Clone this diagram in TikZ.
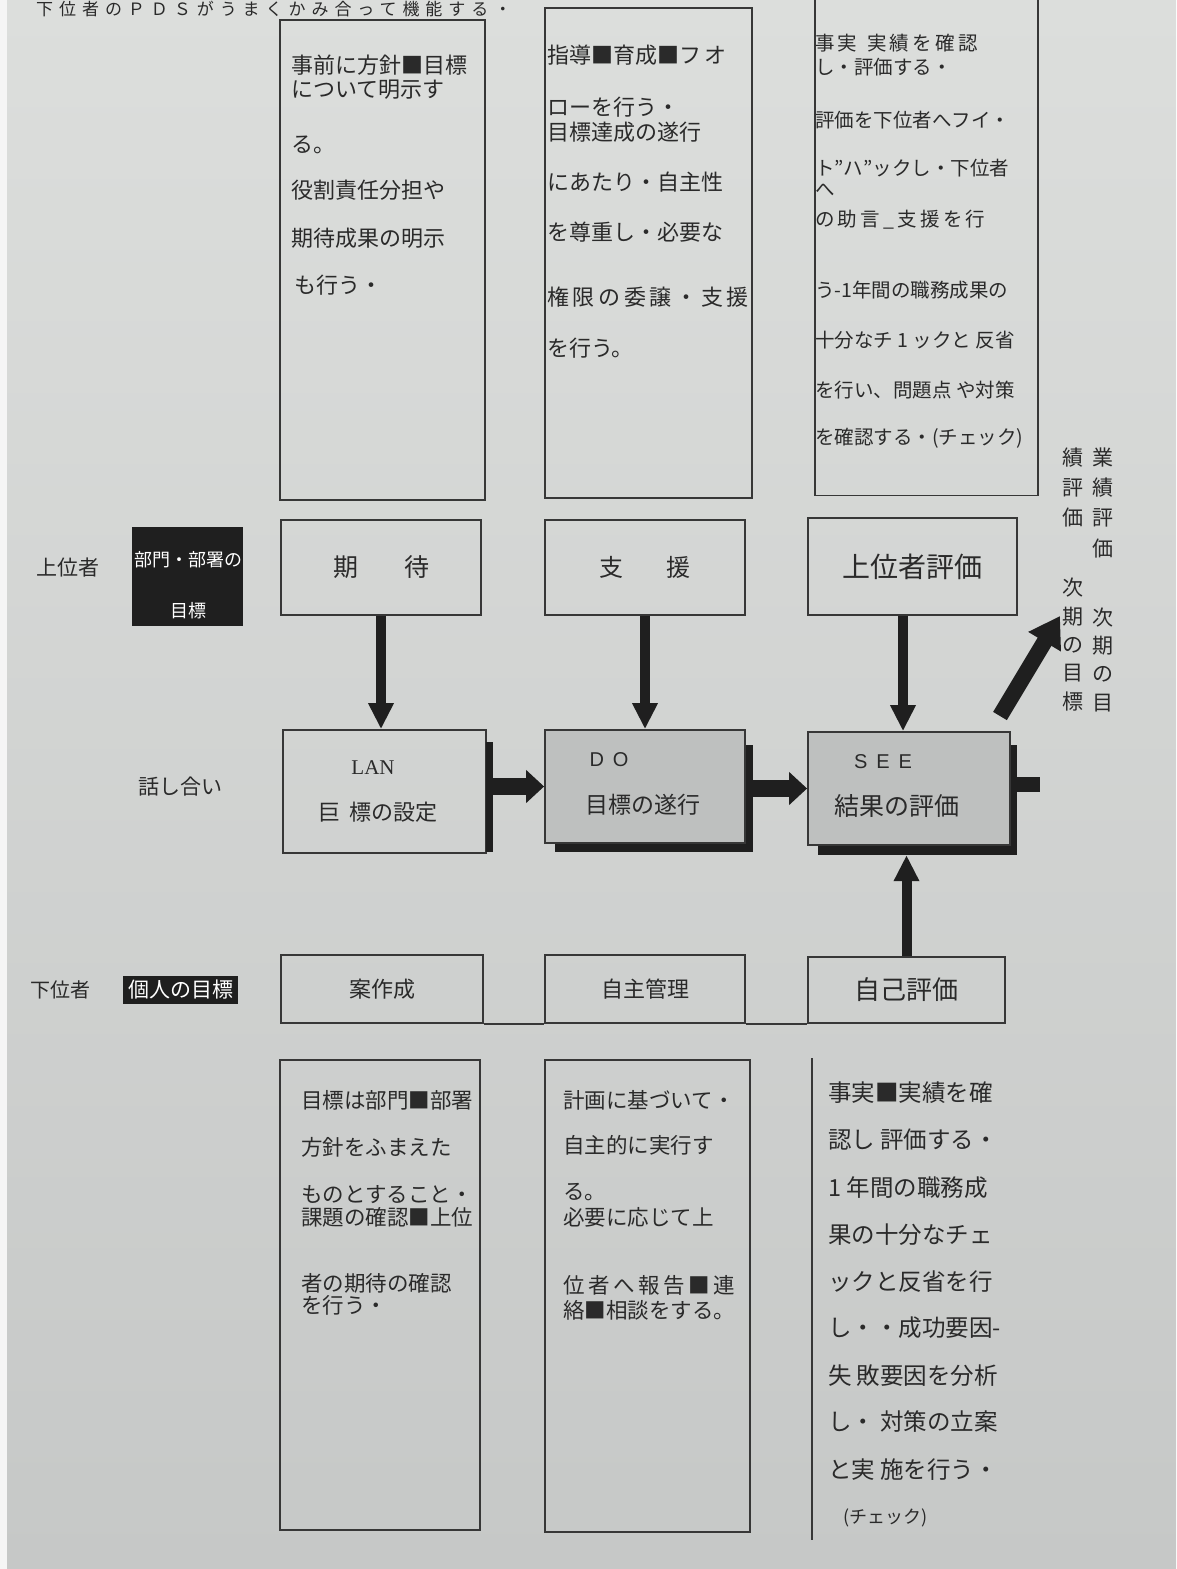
\documentclass[tikz,border=0pt]{standalone}
\usepackage{fontspec}
\setmainfont{Noto Sans CJK JP}
\newfontfamily\latserif{Liberation Serif}
\newfontfamily\latsans{Liberation Sans}
\newfontfamily\headfont[LetterSpace=35]{Noto Sans CJK JP}
\usetikzlibrary{arrows.meta}
\definecolor{paperT}{RGB}{220,222,220}
\definecolor{paperB}{RGB}{198,200,199}
\definecolor{ink}{RGB}{42,42,42}
\definecolor{edge}{RGB}{55,55,55}
\definecolor{boxfill}{RGB}{190,192,191}
\newcommand\fsz[1]{\fontsize{#1}{#1}\selectfont}
\tikzset{
  frame/.style={draw=edge, line width=1.8pt, rectangle, inner sep=0pt},
  blackbox/.style={fill=black!88, rectangle, inner sep=0pt, text=white},
  vfat/.style={draw=black!88, line width=10pt, -{Triangle[width=24pt,length=26pt]}},
  hfat/.style={draw=black!88, line width=17pt, -{Triangle[width=32pt,length=18pt]}},
  dfat/.style={draw=black!88, line width=16pt, -{Triangle[width=36pt,length=30pt]}},
  tline/.style={anchor=west, inner sep=0pt, text=ink},
  lbl/.style={inner sep=0pt, text=ink},
}
\begin{document}
\begin{tikzpicture}[x=1pt,y=-1pt]
\useasboundingbox (0,0) rectangle (1176,1569);
\clip (0,0) rectangle (1176,1569);
\shade[top color=paperT, bottom color=paperB] (0,0) rectangle (1176,1569);
\fill[white!70!paperT] (0,0) rectangle (7,1569);

% heading at the top edge
\node[tline, font=\headfont\fsz{17pt}] (head) at (36,9) {下位者のＰＤＳがうまくかみ合って機能する・};

% ---------- upper text boxes ----------
\node[frame, minimum width=205pt, minimum height=480pt] (b1) at (382.5,260) {};
\node[frame, minimum width=207pt, minimum height=490pt] (b2) at (648.5,253) {};
\node[frame, minimum width=223pt, minimum height=505pt] (b3) at (926.5,243) {};

\foreach \yy/\tt [count=\i] in {65/{事前に方針■目標},90/{について明示す},145/{る。},190/{役割責任分担や},238/{期待成果の明示},285/{\,も行う・}}
  \node[tline, font=\fsz{22pt}] (b1t\i) at (291,\yy) {\tt};

\foreach \yy/\tt [count=\i] in {55/{指導■育成■フ\,オ},107/{ローを行う・},132/{目標達成の遂行},182/{にあたり・自主性},232/{を尊重し・必要な},297/{権\,限\,の\,委\,譲\,・\,支\,援},348/{を行う。}}
  \node[tline, font=\fsz{22pt}] (b2t\i) at (547,\yy) {\tt};

\foreach \yy/\tt [count=\i] in {43/{事\,実\enspace 実\,績\,を\,確\,認},67/{し・評価する・},120/{評価を下位者へフイ・},168/{ト"ハ''ックし・下位者},190/{へ},220/{の\,助\,言\,\_\,支\,援\,を\,行},290/{う-1年間の職務成果の},340/{十分なチ 1 ックと 反省},390/{を行い、問題点 や対策},438/{を確認する・(チェック)}}
  \node[tline, font=\fsz{19.5pt}] (b3t\i) at (815,\yy) {\tt};

% ---------- upper row ----------
\node[lbl, font=\fsz{21pt}] (joui) at (68,568) {上位者};
\node[blackbox, minimum width=111pt, minimum height=99pt] (bumon) at (187.5,576.5) {};
\node[lbl, text=white, font=\fsz{18pt}] (bumont1) at (188,560) {部門・部署の};
\node[lbl, text=white, font=\fsz{18pt}] (bumont2) at (188,611) {目標};

\node[frame, minimum width=200pt, minimum height=95pt, font=\fsz{25pt}, text=ink] (kitai) at (381,567.5) {期\hspace{46pt}待};
\node[frame, minimum width=200pt, minimum height=95pt, font=\fsz{24pt}, text=ink] (shien) at (645,567.5) {支\hspace{44pt}援};
\node[frame, minimum width=209pt, minimum height=97pt, font=\fsz{28pt}, text=ink] (johyo) at (912.5,566.5) {上位者評価};

% right vertical text
\node[lbl, align=center, font=\fsz{21pt}, text=ink] (vr1) at (1103,503) {業\\[9pt]績\\[9pt]評\\[10pt]価};
\node[lbl, align=center, font=\fsz{21pt}, text=ink] (vl1) at (1073,488) {績\\[9pt]評\\[9pt]価};
\node[lbl, align=center, font=\fsz{21pt}, text=ink] (vl2) at (1073,645) {次\\[8pt]期\\[7pt]の\\[7pt]目\\[8pt]標};
\node[lbl, align=center, font=\fsz{21pt}, text=ink] (vr2) at (1103,660) {次\\[7pt]期\\[7pt]の\\[8pt]目};

% ---------- middle row ----------
\node[lbl, font=\fsz{21pt}] (hanashi) at (180,787) {話し合い};

\node[frame, minimum width=203pt, minimum height=123pt] (plan) at (384.5,791.5) {};
\node[fill=black!88, inner sep=0pt, minimum width=7pt, minimum height=110pt] (planbar) at (489.5,797) {};
\node[lbl, font=\latserif\fsz{21pt}] (plant1) at (373,768) {LAN};
\node[lbl, font=\fsz{22pt}] (plant2) at (378,812) {巨\hspace{10pt}標の設定};

\node[fill=black!88, inner sep=0pt, minimum width=198pt, minimum height=107pt] (doshadow) at (654,798.5) {};
\node[frame, fill=boxfill, minimum width=200pt, minimum height=113pt] (do) at (645,786.5) {};
\node[lbl, font=\latsans\fsz{20pt}] (dot1) at (609,760) {D\hspace{9pt}O};
\node[lbl, font=\fsz{23pt}] (dot2) at (643,805) {目標の遂行};

\node[fill=black!88, inner sep=0pt, minimum width=199pt, minimum height=110pt] (seeshadow) at (917.5,800) {};
\node[frame, fill=boxfill, minimum width=202pt, minimum height=113pt] (see) at (909,788.5) {};
\node[lbl, font=\latsans\fsz{20pt}] (seet1) at (883,762) {S\hspace{9pt}E\hspace{9pt}E};
\node[lbl, font=\fsz{25pt}] (seet2) at (897,806) {結果の評価};
\node[fill=black!88, inner sep=0pt, minimum width=23pt, minimum height=15pt] (stub) at (1028.5,784.5) {};

% ---------- lower row ----------
\node[lbl, font=\fsz{20pt}] (kai) at (60,990) {下位者};
\node[blackbox, minimum width=115pt, minimum height=28pt, font=\fsz{21pt}] (kojin) at (180.5,989.5) {個人の目標};
\node[frame, minimum width=202pt, minimum height=68pt, font=\fsz{22pt}, text=ink] (ansaku) at (382,989) {案作成};
\node[frame, minimum width=200pt, minimum height=68pt, font=\fsz{22pt}, text=ink] (jishu) at (645,989) {自主管理};
\node[frame, minimum width=197pt, minimum height=66pt, font=\fsz{26pt}, text=ink] (jiko) at (906.5,990) {自己評価};
\draw[draw=edge, line width=1.8pt] (ansaku.south east) -- (jishu.south west);
\draw[draw=edge, line width=1.8pt] (jishu.south east) -- (jiko.south west);

% ---------- lower text boxes ----------
\node[frame, minimum width=200pt, minimum height=470pt] (b4) at (380,1295) {};
\node[frame, minimum width=205pt, minimum height=472pt] (b5) at (647.5,1296) {};
\coordinate (b6top) at (812,1058);
\coordinate (b6bot) at (812,1540);
\draw[draw=edge, line width=1.8pt] (b6top) -- (b6bot);

\foreach \yy/\tt [count=\i] in {1100/{目標は部門■部署},1147/{方針をふまえた},1195/{ものとすること・},1217/{課題の確認■上位},1283/{者の期待の確認},1305/{を行う・}}
  \node[tline, font=\fsz{21.5pt}] (b4t\i) at (301,\yy) {\tt};

\foreach \yy/\tt [count=\i] in {1100/{計画に基づいて・},1145/{自主的に実行す},1192/{る。},1217/{必要に応じて上},1285/{位\,者\,へ\,報\,告\,■\,連},1310/{絡■相談をする。}}
  \node[tline, font=\fsz{21.5pt}] (b5t\i) at (563,\yy) {\tt};

\foreach \yy/\tt [count=\i] in {1093/{事実■実績を確},1140/{認し 評価する・},1188/{1 年間の職務成},1235/{果の十分なチェ},1282/{ックと反省を行},1328/{し・・成功要因-},1376/{失 敗要因を分析},1422/{し・ 対策の立案},1470/{と実 施を行う・}}
  \node[tline, font=\fsz{23.5pt}] (b6t\i) at (828,\yy) {\tt};
\node[tline, font=\fsz{18pt}] (b6t10) at (843,1518) {(チェック)};

% ---------- arrows ----------
\draw[vfat] (kitai.south) -- (kitai.south |- plan.north);
\draw[vfat] (shien.south) -- (shien.south |- do.north);
\draw[vfat] (johyo.south -| see.north) ++(-6,0) coordinate (jh) (jh) -- (jh |- see.north);
\draw[hfat] (planbar.east |- do.west) -- (do.west);
\draw[hfat] (doshadow.east |- see.west) -- (see.west);
\draw[vfat] (jiko.north) -- (jiko.north |- seeshadow.south);
\coordinate (diagS) at (1000,716);
\coordinate (diagE) at (1060,616);
\draw[dfat] (diagS) -- (diagE);
\end{tikzpicture}
\end{document}
